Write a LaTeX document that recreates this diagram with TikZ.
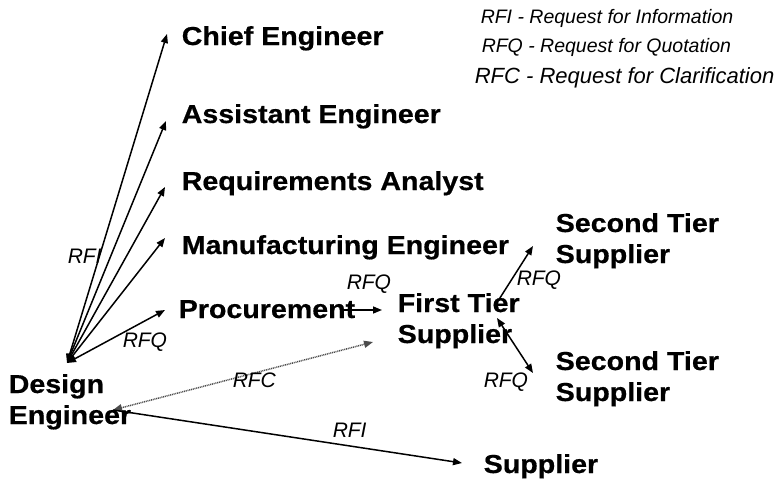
\documentclass[tikz,border=0pt]{standalone}
\usepackage{fontspec}
\setmainfont{Liberation Sans}
\newfontfamily\partyfont[FakeStretch=1.1, BoldFeatures={FakeBold=0.6}]{Liberation Sans}
\usetikzlibrary{arrows.meta}
\usetikzlibrary{positioning}

\tikzset{
  party/.style={anchor=base west, inner sep=0pt, align=left,
    font=\partyfont\fontsize{26}{31}\selectfont\bfseries},
  reqlabel/.style={anchor=base west, inner sep=0pt,
    font=\fontsize{21}{24}\selectfont\itshape},
  legendline/.style={anchor=base west, inner sep=0pt,
    font=\fontsize{19.5}{23}\selectfont\itshape},
  tip/.style={-{Triangle[length=9pt,width=7pt]}},
  bothtips/.style={{Triangle[length=9pt,width=7pt]}-{Triangle[length=9pt,width=7pt]}},
}

\begin{document}
\begin{tikzpicture}[x=1pt, y=-1pt, line width=1.5pt] % who asks whom

\useasboundingbox (0,0) rectangle (774,480);

%legend
\node[legendline] (key rfi) at (480,23) {RFI - Request for Information};
\node[legendline] (key rfq) at (481,52) {RFQ - Request for Quotation};
\node[legendline, font=\fontsize{22}{26}\selectfont\itshape] (key rfc) at (474,83) {RFC - Request for Clarification};

%parties (two-line ones sit on their last baseline)
\node[party] (chief)    at (181,45)  {Chief Engineer};
\node[party] (assist)   at (181,123) {Assistant Engineer};
\node[party] (analyst)  at (181,190) {Requirements Analyst};
\node[party] (manuf)    at (181,254) {Manufacturing Engineer};
\node[party] (procure)  at (178,318) {Procurement};
\node[party] (tier1)    at (397,343) {First Tier\\Supplier};
\node[party] (tier2a)   at (555,263) {Second Tier\\Supplier};
\node[party] (tier2b)   at (555,401) {Second Tier\\Supplier};
\node[party] (design)   at (8,424)   {Design\\Engineer};
\node[party] (supplier) at (483,473) {Supplier};

%hub points on the design engineer
\coordinate (hub) at ([xshift=59pt, yshift=61pt]design.base west);
\coordinate (lower hub) at ([xshift=105pt, yshift=14pt]design.base west);

%arrows
\draw[bothtips] (hub) -- ([xshift=-14pt, yshift=11pt]chief.base west);
\draw[bothtips] (hub) -- ([xshift=-15pt, yshift=2pt]assist.base west);
\draw[bothtips] (hub) -- ([xshift=-16pt, yshift=3pt]analyst.base west);
\draw[bothtips] (hub) -- ([xshift=-16pt, yshift=16pt]manuf.base west);
\draw[bothtips] (hub) -- ([xshift=-13pt, yshift=8pt]procure.base west);

\draw[tip] ([xshift=-12pt, yshift=8pt]procure.base east) -- ([xshift=-15pt, yshift=33pt]tier1.base west);
\draw[tip] ([xshift=101pt, yshift=42pt]tier1.base west) -- ([xshift=-22pt, yshift=17pt]tier2a.base west);
\draw[bothtips] ([xshift=100pt, yshift=25pt]tier1.base west) -- ([xshift=-22pt, yshift=28pt]tier2b.base west);

\draw[bothtips, black!70, dash pattern=on 1pt off 0.8pt] (lower hub) -- ([xshift=-24pt, yshift=1pt]tier1.base west);
\draw[tip] (lower hub) -- ([xshift=-21pt, yshift=10pt]supplier.base west);

%labels
\node[reqlabel] (rfi up)   at (67,263)  {RFI};
\node[reqlabel] (rfq proc) at (122,347) {RFQ};
\node[reqlabel] (rfq t1)   at (346,289) {RFQ};
\node[reqlabel] (rfq t2a)  at (516,285) {RFQ};
\node[reqlabel] (rfq t2b)  at (483,387) {RFQ};
\node[reqlabel] (rfc)      at (232,387) {RFC};
\node[reqlabel] (rfi low)  at (332,437) {RFI};

\end{tikzpicture}
\end{document}
